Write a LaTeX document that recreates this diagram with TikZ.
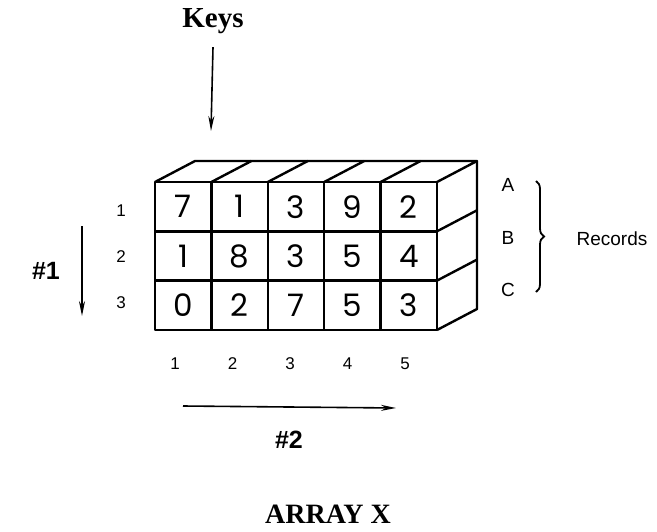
\documentclass[tikz,border=0pt]{standalone}
\usepackage{fontspec}
\setmainfont{Liberation Serif}
\setsansfont{Liberation Sans}
\newfontfamily\digitfont{Poppins}
\usetikzlibrary{arrows.meta,decorations.pathreplacing}

\tikzset{
  box/.style={line width=2.4pt,line join=round},
  digit/.style={font=\digitfont\fontsize{31}{31}\selectfont},
  small/.style={font=\sffamily\fontsize{17}{17}\selectfont},
  letter/.style={font=\sffamily\fontsize{19}{19}\selectfont},
  heading/.style={font=\bfseries\fontsize{29}{29}\selectfont},
  dimlabel/.style={font=\sffamily\bfseries\fontsize{25}{25}\selectfont},
  pointer/.style={line width=1.6pt,->},
}

\begin{document}
\begin{tikzpicture}[x=1pt,y=-1pt,>={Stealth[length=15pt,width=6pt]}]
  \useasboundingbox (0,0) rectangle (657,531);
  % front face: 3 rows x 5 columns
  \def\cw{56.4}
  \def\rh{49.3}
  \draw[box] (155,182) rectangle (437,330);
  \foreach \i in {1,...,4}
    \draw[box] (155+\i*\cw,182) -- (155+\i*\cw,330);
  \foreach \j in {1,2}
    \draw[box] (155,182+\j*\rh) -- (437,182+\j*\rh);
  % top and right faces
  \draw[box] (155,182) -- (195,161) -- (477,161) -- (437,182);
  \foreach \i in {1,...,4}
    \draw[box] (155+\i*\cw,182) -- (195+\i*\cw,161);
  \draw[box] (477,161) -- (477,309) -- (437,330);
  \foreach \j in {1,2}
    \draw[box] (437,182+\j*\rh) -- (477,161+\j*\rh);
  % cell values
  \foreach \row [count=\r] in {{7,1,3,9,2},{1,8,3,5,4},{0,2,7,5,3}}
    \foreach \v [count=\c] in \row
      \node[digit] (cell-\r-\c) at (155+\c*\cw-0.5*\cw,182+\r*\rh-0.5*\rh) {\v};
  % row numbers and column numbers
  \foreach \r in {1,2,3}
    \node[small] (row-\r) at (121,211+46*\r-46) {\r};
  \foreach \c in {1,...,5}
    \node[small] (col-\c) at (175+57.5*\c-57.5,364) {\c};
  % keys
  \node[heading] (keys) at (213,21) {Keys};
  \coordinate (keytip) at (211,131);
  \draw[pointer] (keys.south) ++(0,10) -- (keytip);
  % dimension #1
  \node[dimlabel] (dim1) at (46,271) {\#1};
  \coordinate (d1top) at (82,226);
  \coordinate (d1end) at (82,316);
  \draw[pointer] (d1top) -- (d1end);
  % dimension #2
  \coordinate (d2start) at (183,406);
  \coordinate (d2end) at (396,408);
  \draw[pointer] (d2start) -- (d2end);
  \node[dimlabel] (dim2) at (289,440) {\#2};
  % records
  \node[letter] (recA) at (508,185) {A};
  \node[letter] (recB) at (508,238) {B};
  \node[letter] (recC) at (508,290) {C};
  \node[letter] (records) at (612,239) {Records};
  \draw[line width=1.8pt,decorate,decoration={brace,amplitude=8pt}]
    (536,181) -- (536,292);
  % title
  \node[heading,font=\bfseries\fontsize{28}{28}\selectfont] (title) at (328,514) {ARRAY X};
\end{tikzpicture}
\end{document}
